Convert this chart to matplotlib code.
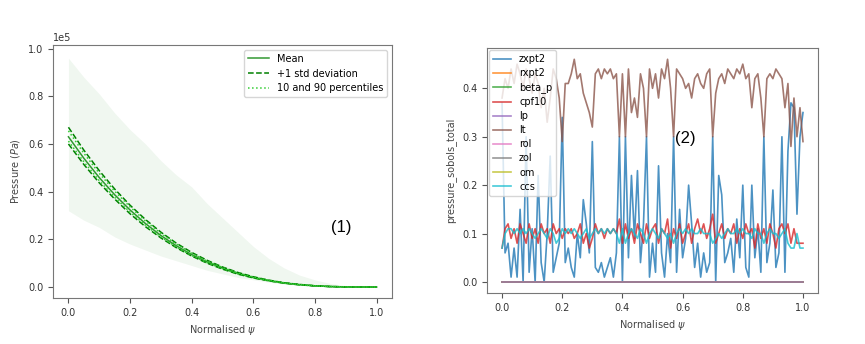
import numpy as np
import matplotlib.pyplot as plt

# ---- panel (1): pressure profile statistics (units of 1e5 Pa) ----
psi_coarse = np.linspace(0, 1, 21)
p_mean = [0.630, 0.540, 0.459, 0.387, 0.323, 0.266, 0.216, 0.173, 0.136, 0.105, 0.079,
          0.057, 0.040, 0.027, 0.017, 0.010, 0.005, 0.002, 0.0006, 0.0001, 0.0]
p_std_hi = [0.670, 0.574, 0.488, 0.411, 0.343, 0.283, 0.230, 0.184, 0.145, 0.112, 0.084,
            0.061, 0.043, 0.029, 0.018, 0.011, 0.005, 0.002, 0.0007, 0.0001, 0.0]
p_std_lo = [0.600, 0.514, 0.437, 0.369, 0.307, 0.253, 0.206, 0.165, 0.130, 0.100, 0.075,
            0.054, 0.038, 0.026, 0.016, 0.009, 0.005, 0.002, 0.0006, 0.0001, 0.0]
p_p90 = [0.655, 0.561, 0.477, 0.402, 0.336, 0.277, 0.225, 0.180, 0.141, 0.109, 0.082,
         0.059, 0.042, 0.028, 0.018, 0.010, 0.005, 0.002, 0.0006, 0.0001, 0.0]
p_p10 = [0.612, 0.525, 0.446, 0.376, 0.314, 0.259, 0.210, 0.168, 0.132, 0.102, 0.077,
         0.055, 0.039, 0.026, 0.016, 0.010, 0.005, 0.002, 0.0006, 0.0001, 0.0]
p_max = [0.96, 0.88, 0.81, 0.73, 0.66, 0.60, 0.53, 0.47, 0.42, 0.35, 0.29,
         0.23, 0.17, 0.12, 0.08, 0.05, 0.03, 0.015, 0.006, 0.001, 0.0]
p_min = [0.32, 0.28, 0.25, 0.21, 0.18, 0.155, 0.13, 0.11, 0.09, 0.07, 0.055,
         0.04, 0.03, 0.02, 0.012, 0.007, 0.004, 0.002, 0.001, 0.0003, 0.0]

# ---- panel (2): total Sobol indices ----
psi_fine = np.linspace(0, 1, 101)
zxpt2 = [0.37, 0.06, 0.08, 0.01, 0.07, 0.01, 0.15, 0.00, 0.30, 0.02, 0.11, 0.00, 0.22, 0.04, 0.00,
         0.10, 0.26, 0.02, 0.05, 0.08, 0.34, 0.04, 0.07, 0.03, 0.01, 0.10, 0.05, 0.17, 0.12, 0.06,
         0.29, 0.03, 0.02, 0.04, 0.01, 0.03, 0.05, 0.01, 0.06, 0.30, 0.00, 0.30, 0.05, 0.22, 0.09,
         0.23, 0.04, 0.12, 0.30, 0.01, 0.08, 0.02, 0.24, 0.06, 0.01, 0.10, 0.04, 0.30, 0.02, 0.15,
         0.05, 0.09, 0.20, 0.12, 0.03, 0.08, 0.01, 0.06, 0.02, 0.04, 0.30, 0.00, 0.22, 0.18, 0.04,
         0.06, 0.09, 0.02, 0.13, 0.05, 0.20, 0.03, 0.01, 0.20, 0.05, 0.11, 0.02, 0.30, 0.04, 0.08,
         0.19, 0.03, 0.06, 0.30, 0.02, 0.27, 0.37, 0.36, 0.14, 0.30, 0.35]
lt = [0.38, 0.42, 0.40, 0.44, 0.41, 0.45, 0.43, 0.40, 0.44, 0.42, 0.39, 0.43, 0.41, 0.36, 0.40,
      0.33, 0.38, 0.44, 0.42, 0.38, 0.29, 0.41, 0.41, 0.43, 0.46, 0.42, 0.43, 0.39, 0.37, 0.35,
      0.32, 0.43, 0.44, 0.42, 0.44, 0.43, 0.44, 0.42, 0.43, 0.30, 0.43, 0.30, 0.44, 0.35, 0.38,
      0.34, 0.43, 0.40, 0.30, 0.44, 0.40, 0.43, 0.38, 0.44, 0.42, 0.46, 0.40, 0.30, 0.44, 0.43,
      0.42, 0.40, 0.41, 0.38, 0.42, 0.43, 0.41, 0.40, 0.43, 0.44, 0.30, 0.39, 0.42, 0.43, 0.41,
      0.44, 0.43, 0.42, 0.44, 0.43, 0.45, 0.42, 0.43, 0.36, 0.42, 0.43, 0.38, 0.30, 0.42, 0.43,
      0.42, 0.44, 0.43, 0.42, 0.36, 0.41, 0.28, 0.38, 0.30, 0.36, 0.29]
cpf10 = [0.07, 0.11, 0.12, 0.09, 0.11, 0.08, 0.12, 0.10, 0.08, 0.12, 0.09, 0.11, 0.08, 0.12, 0.10,
         0.11, 0.08, 0.12, 0.10, 0.11, 0.09, 0.11, 0.10, 0.11, 0.09, 0.10, 0.12, 0.08, 0.10, 0.07,
         0.09, 0.12, 0.10, 0.11, 0.09, 0.11, 0.10, 0.11, 0.10, 0.13, 0.08, 0.12, 0.09, 0.11, 0.08,
         0.12, 0.10, 0.08, 0.12, 0.09, 0.11, 0.12, 0.08, 0.11, 0.10, 0.13, 0.07, 0.11, 0.09, 0.12,
         0.08, 0.10, 0.12, 0.08, 0.11, 0.13, 0.10, 0.12, 0.09, 0.11, 0.14, 0.08, 0.10, 0.12, 0.09,
         0.11, 0.10, 0.12, 0.08, 0.11, 0.09, 0.12, 0.10, 0.11, 0.07, 0.12, 0.09, 0.11, 0.08, 0.12,
         0.10, 0.07, 0.11, 0.12, 0.10, 0.12, 0.08, 0.11, 0.08, 0.08, 0.08]
ccs = [0.07, 0.10, 0.11, 0.11, 0.10, 0.11, 0.10, 0.11, 0.10, 0.11, 0.10, 0.09, 0.10, 0.11, 0.10,
       0.09, 0.11, 0.10, 0.08, 0.09, 0.11, 0.10, 0.11, 0.10, 0.11, 0.10, 0.09, 0.10, 0.11, 0.09,
       0.10, 0.11, 0.10, 0.11, 0.10, 0.11, 0.10, 0.11, 0.10, 0.08, 0.11, 0.08, 0.10, 0.11, 0.10,
       0.09, 0.11, 0.10, 0.08, 0.10, 0.11, 0.10, 0.09, 0.11, 0.10, 0.09, 0.10, 0.08, 0.10, 0.11,
       0.10, 0.11, 0.10, 0.11, 0.10, 0.10, 0.11, 0.10, 0.10, 0.10, 0.08, 0.09, 0.10, 0.09, 0.10,
       0.11, 0.10, 0.10, 0.11, 0.10, 0.11, 0.10, 0.10, 0.09, 0.11, 0.10, 0.10, 0.08, 0.10, 0.11,
       0.10, 0.10, 0.09, 0.10, 0.11, 0.08, 0.07, 0.07, 0.10, 0.07, 0.07]
zero_idx = [0.0] * 101
sobol_names = ['zxpt2', 'rxpt2', 'beta_p', 'cpf10', 'lp', 'lt', 'rol', 'zol', 'om', 'ccs']
sobol_values = [zxpt2, zero_idx, zero_idx, cpf10, zero_idx, lt, zero_idx, zero_idx, zero_idx, ccs]

plt.rcParams['font.size'] = 7
plt.rcParams['axes.edgecolor'] = '#777777'
plt.rcParams['xtick.color'] = '#555555'
plt.rcParams['ytick.color'] = '#555555'
plt.rcParams['xtick.labelcolor'] = '#333333'
plt.rcParams['ytick.labelcolor'] = '#333333'

fig = plt.figure(figsize=(8.65, 3.44), dpi=100)
ax1 = fig.add_axes([0.0613, 0.1337, 0.392, 0.7355])
ax2 = fig.add_axes([0.563, 0.148, 0.3827, 0.712])

# panel 1
scale = 1e5
ax1.fill_between(psi_coarse, np.array(p_min) * scale, np.array(p_max) * scale,
                 color='green', alpha=0.06, linewidth=0)
ax1.plot(psi_coarse, np.array(p_mean) * scale, '-', color='green', lw=1.1, alpha=0.8, label='Mean')
ax1.plot(psi_coarse, np.array(p_std_hi) * scale, '--', color='green', lw=1.1, label='+1 std deviation')
ax1.plot(psi_coarse, np.array(p_std_lo) * scale, '--', color='green', lw=1.1)
ax1.plot(psi_coarse, np.array(p_p90) * scale, ':', color='limegreen', lw=1.1, label='10 and 90 percentiles')
ax1.plot(psi_coarse, np.array(p_p10) * scale, ':', color='limegreen', lw=1.1)
ax1.set_ylim(-0.046e5, 1.015e5)
ax1.set_yticks(np.arange(0, 1.01, 0.2) * scale)
ax1.ticklabel_format(axis='y', style='sci', scilimits=(0, 0))
ax1.set_xlabel(r'Normalised $\psi$', color='#444444')
ax1.set_ylabel(r'Pressure ($Pa$)', color='#444444')
ax1.legend(loc='upper right', fontsize=7, handlelength=2.2)
ax1.text(0.85, 0.28, '(1)', transform=ax1.transAxes, fontsize=12,
         family='Liberation Sans', ha='center', va='center')

# panel 2
colors = plt.rcParams['axes.prop_cycle'].by_key()['color']
for i, (name, vals) in enumerate(zip(sobol_names, sobol_values)):
    z = 3 if name == 'lp' else 2
    ax2.plot(psi_fine, vals, color=colors[i], lw=1.2, alpha=0.8, label=name, zorder=z)
ax2.set_xlabel(r'Normalised $\psi$', color='#444444')
ax2.set_ylabel('pressure_sobols_total', color='#444444')
ax2.legend(loc='upper left', fontsize=7, borderaxespad=0.2, handlelength=1.9, labelspacing=0.42)
ax2.text(0.6, 0.63, '(2)', transform=ax2.transAxes, fontsize=12,
         family='Liberation Sans', ha='center', va='center')

fig.savefig('out.png', dpi=100)
